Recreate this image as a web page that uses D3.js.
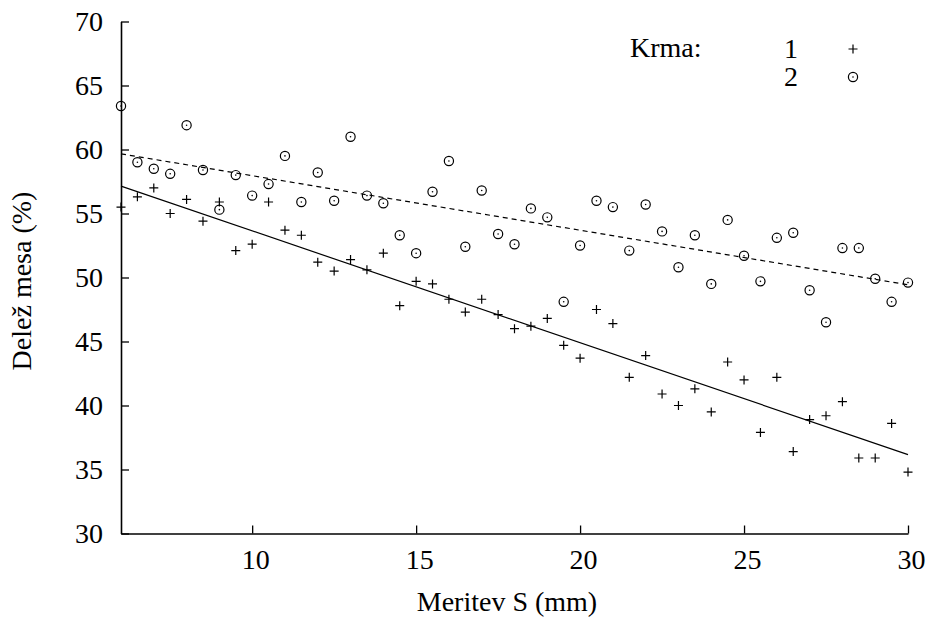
<!DOCTYPE html>
<html>
<head>
<meta charset="utf-8">
<script src="https://cdn.jsdelivr.net/npm/d3@7"></script>
<style>
  body { margin: 0; background: #fff; }
</style>
</head>
<body>
<div id="chart"></div>
<script>

// measurement S (mm), one entry per point
var meritev = [6, 6.5, 7, 7.5, 8, 8.5, 9, 9.5, 10, 10.5, 11, 11.5, 12, 12.5, 13, 13.5, 14, 14.5,
  15, 15.5, 16, 16.5, 17, 17.5, 18, 18.5, 19, 19.5, 20, 20.5, 21, 21.5, 22, 22.5, 23, 23.5,
  24, 24.5, 25, 25.5, 26, 26.5, 27, 27.5, 28, 28.5, 29, 29.5, 30]

// meat share (%) for feed 1 (+)
var krma1 = [55.5, 56.3, 57.0, 55.0, 56.1, 54.4, 55.9, 52.1, 52.6, 55.9, 53.7, 53.3, 51.2, 50.5,
  51.4, 50.6, 51.9, 47.8, 49.7, 49.5, 48.3, 47.3, 48.3, 47.1, 46.0, 46.2, 46.8, 44.7, 43.7,
  47.5, 46.4, 42.2, 43.9, 40.9, 40.0, 41.3, 39.5, 43.4, 42.0, 37.9, 42.2, 36.4, 38.9, 39.2,
  40.3, 35.9, 35.9, 38.6, 34.8]

// meat share (%) for feed 2 (circle)
var krma2 = [63.4, 59.0, 58.5, 58.1, 61.9, 58.4, 55.3, 58.0, 56.4, 57.3, 59.5, 55.9, 58.2, 56.0,
  61.0, 56.4, 55.8, 53.3, 51.9, 56.7, 59.1, 52.4, 56.8, 53.4, 52.6, 55.4, 54.7, 48.1, 52.5,
  56.0, 55.5, 52.1, 55.7, 53.6, 50.8, 53.3, 49.5, 54.5, 51.7, 49.7, 53.1, 53.5, 49.0, 46.5,
  52.3, 52.3, 49.9, 48.1, 49.6]

var xTicks = [10, 15, 20, 25, 30]
var yTicks = [30, 35, 40, 45, 50, 55, 60, 65, 70]
var legendLabels = ["1", "2"]

var width = 928, height = 618;
var serif = "'Liberation Serif'";
var fs = 28;

var svg = d3.select("#chart")
  .append("svg")
    .attr("width", width)
    .attr("height", height);

var x = d3.scaleLinear().domain([6, 30]).range([121, 908]);
var y = d3.scaleLinear().domain([30, 70]).range([533.5, 21.5]);

// axes (ticks point inward, like gnuplot)
var xAxis = svg.append("g")
  .attr("transform", "translate(0," + y(30) + ")")
  .call(d3.axisBottom(x).tickValues(xTicks).tickSizeInner(-8).tickSizeOuter(0).tickPadding(16));

var yAxis = svg.append("g")
  .attr("transform", "translate(" + x(6) + ",0)")
  .call(d3.axisLeft(y).tickValues(yTicks).tickSizeInner(-8).tickSizeOuter(0).tickPadding(18));

svg.selectAll(".domain").attr("stroke", "#000").attr("stroke-width", 1.6);
svg.selectAll(".tick line").attr("stroke", "#000").attr("stroke-width", 1.3);
svg.selectAll(".tick text")
  .style("font-family", serif)
  .attr("font-size", fs);
xAxis.selectAll(".tick text").attr("dx", 3);

// axis titles
svg.append("text")
  .attr("x", 507)
  .attr("y", 611)
  .attr("text-anchor", "middle")
  .attr("font-size", fs)
  .style("font-family", serif)
  .text("Meritev S (mm)");

svg.append("text")
  .attr("transform", "translate(31,281) rotate(-90)")
  .attr("text-anchor", "middle")
  .attr("font-size", fs)
  .style("font-family", serif)
  .text("Delež mesa (%)");

// least squares fit for each feed
function fit(xs, ys) {
  var mx = d3.mean(xs), my = d3.mean(ys);
  var sxy = d3.sum(xs, function(d, i) { return (d - mx) * (ys[i] - my); });
  var sxx = d3.sum(xs, function(d) { return (d - mx) * (d - mx); });
  var b = sxy / sxx;
  return { a: my - b * mx, b: b };
}

var fit1 = fit(meritev, krma1);
var fit2 = fit(meritev, krma2);

var line = d3.line()
  .x(function(d) { return x(d[0]); })
  .y(function(d) { return y(d[1]); });

var ends = d3.extent(meritev);

svg.append("path")
  .attr("d", line(ends.map(function(v) { return [v, fit1.a + fit1.b * v]; })))
  .attr("fill", "none")
  .attr("stroke", "#000")
  .attr("stroke-width", 1.2);

svg.append("path")
  .attr("d", line(ends.map(function(v) { return [v, fit2.a + fit2.b * v]; })))
  .attr("fill", "none")
  .attr("stroke", "#000")
  .attr("stroke-width", 1.2)
  .attr("stroke-dasharray", "5,4");

// markers
function plus(g) {
  g.append("path")
    .attr("d", "M-4.5,0H4.5M0,-4.5V4.5")
    .attr("stroke", "#000")
    .attr("stroke-width", 1.2);
}

function ring(g) {
  g.append("circle")
    .attr("r", 4.6)
    .attr("fill", "none")
    .attr("stroke", "#000")
    .attr("stroke-width", 1.2);
  g.append("circle")
    .attr("r", 0.8)
    .attr("fill", "#000");
}

svg.selectAll("g.p1")
  .data(krma1)
  .enter()
  .append("g")
    .attr("class", "p1")
    .attr("transform", function(d, i) { return "translate(" + x(meritev[i]) + "," + y(d) + ")"; })
    .each(function() { plus(d3.select(this)); });

svg.selectAll("g.p2")
  .data(krma2)
  .enter()
  .append("g")
    .attr("class", "p2")
    .attr("transform", function(d, i) { return "translate(" + x(meritev[i]) + "," + y(d) + ")"; })
    .each(function() { ring(d3.select(this)); });

// legend
var legend = svg.append("g");

legend.append("text")
  .attr("x", 630)
  .attr("y", 57)
  .attr("font-size", fs)
  .style("font-family", serif)
  .text("Krma:");

legendLabels.forEach(function(lab, i) {
  legend.append("text")
    .attr("x", 798)
    .attr("y", 58 + i * 28)
    .attr("text-anchor", "end")
    .attr("font-size", fs)
    .style("font-family", serif)
    .text(lab);
  var m = legend.append("g")
    .attr("transform", "translate(853," + (49 + i * 28) + ")");
  if (i == 0) plus(m); else ring(m);
});

</script>
</body>
</html>
